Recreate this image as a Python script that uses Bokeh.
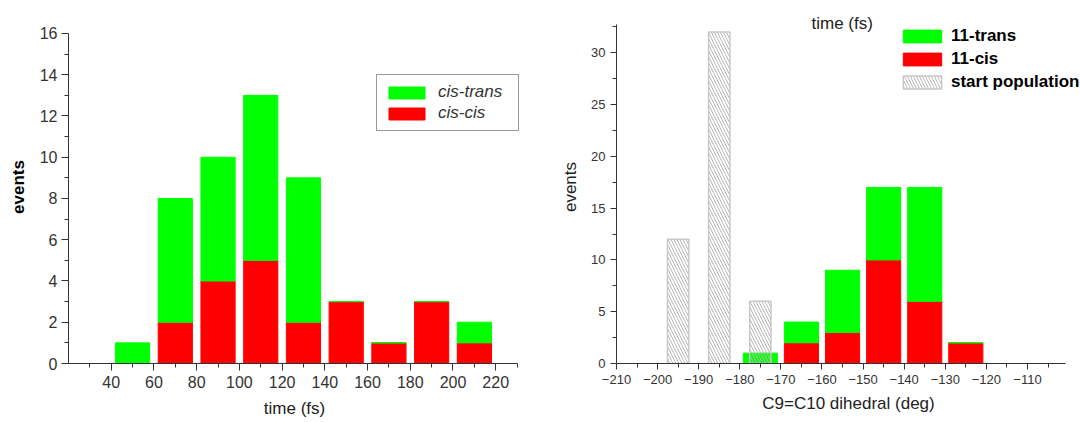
from bokeh.plotting import figure
from bokeh.layouts import row
from bokeh.models import Legend, LegendItem, FixedTicker, Label, Range1d, ColumnDataSource
from bokeh.embed import file_html
from bokeh.resources import INLINE

# ---- left chart data ----
time_centers = [50, 70, 90, 110, 130, 150, 170, 190, 210]
cis_cis = [0, 2, 4, 5, 2, 3, 1, 3, 1]
cis_trans = [1, 6, 6, 8, 7, 0, 0, 0, 1]
left_xticks = [40, 60, 80, 100, 120, 140, 160, 180, 200, 220]
left_xminor = [30, 50, 70, 90, 110, 130, 150, 170, 190, 210, 230]
left_yticks = [0, 2, 4, 6, 8, 10, 12, 14, 16]
left_yminor = [1, 3, 5, 7, 9, 11, 13, 15]

# ---- right chart data ----
dihedral_centers = [-175, -165, -155, -145, -135, -125]
cis11 = [0, 2, 3, 10, 6, 2]
trans11 = [1, 2, 6, 7, 11, 0]
start_centers = [-195, -185, -175]
start_pop = [12, 32, 6]
right_xticks = [-210, -200, -190, -180, -170, -160, -150, -140, -130, -120, -110]
right_xminor = [-205, -195, -185, -175, -165, -155, -145, -135, -125, -115, -105]
right_yticks = [0, 5, 10, 15, 20, 25, 30]
right_yminor = [2.5, 7.5, 12.5, 17.5, 22.5, 27.5, 32.5]

FONT = "Liberation Sans"
GREEN = "#00ff00"
RED = "#ff0000"
AX = "#333333"


def style_axis(ax, ticks, minor, size, tick_out, standoff):
    ax.ticker = FixedTicker(ticks=ticks, minor_ticks=minor)
    ax.axis_line_color = AX
    ax.major_tick_line_color = AX
    ax.minor_tick_line_color = AX
    ax.major_tick_out = tick_out
    ax.major_tick_in = 0
    ax.minor_tick_out = 4
    ax.minor_tick_in = 0
    ax.major_label_standoff = standoff
    ax.major_label_text_font = FONT
    ax.major_label_text_font_size = size
    ax.major_label_text_color = "#333333"
    ax.axis_label_text_font = FONT
    ax.axis_label_text_font_size = "17px"
    ax.axis_label_text_color = "#222222"
    ax.axis_label_text_font_style = "normal"


# both figures share the same frame top / bottom (row aligns them)
TOP = 10
BOTTOM = 59

# ================= LEFT =================
p1 = figure(width=540, height=422, output_backend="svg", toolbar_location=None,
            x_range=Range1d(20, 231.6), y_range=Range1d(0, 17.115),
            min_border_left=68, min_border_right=20, min_border_top=TOP, min_border_bottom=BOTTOM)
p1.outline_line_color = None
p1.xgrid.visible = False
p1.ygrid.visible = False

src1 = ColumnDataSource(dict(x=time_centers, cc=cis_cis,
                             tot=[a + b for a, b in zip(cis_cis, cis_trans)]))
g_red1 = p1.vbar(x="x", width=16, bottom=0, top="cc", source=src1,
                 fill_color=RED, line_color=RED)
g_green1 = p1.vbar(x="x", width=16, bottom="cc", top="tot", source=src1,
                   fill_color=GREEN, line_color=GREEN)

style_axis(p1.xaxis[0], left_xticks, left_xminor, "16px", 7, 5)
style_axis(p1.yaxis[0], left_yticks, left_yminor, "16px", 7, 4)
p1.xaxis.bounds = (20, 230)
p1.yaxis.bounds = (0, 16)
p1.xaxis.axis_label = "time (fs)"
p1.xaxis.axis_label_standoff = 8
p1.yaxis.axis_label = "events"
p1.yaxis.axis_label_text_font_style = "bold"
p1.yaxis.axis_label_text_color = "#000000"
p1.yaxis.axis_label_standoff = 9

leg1 = Legend(items=[LegendItem(label="cis-trans", renderers=[g_green1]),
                     LegendItem(label="cis-cis", renderers=[g_red1])],
              location=(308, 232))
leg1.label_text_font = FONT
leg1.label_text_font_style = "italic"
leg1.label_text_font_size = "17px"
leg1.label_text_color = "#333333"
leg1.glyph_width = 45
leg1.glyph_height = 15
leg1.label_height = 20
leg1.spacing = 1
leg1.padding = 7
leg1.margin = 0
leg1.label_standoff = 9
leg1.label_width = 73
leg1.border_line_color = AX
leg1.border_line_width = 1
p1.add_layout(leg1, "center")

# ================= RIGHT =================
p2 = figure(width=540, height=422, output_backend="svg", toolbar_location=None,
            x_range=Range1d(-210, -97.1), y_range=Range1d(0, 34.08),
            min_border_left=76, min_border_right=0, min_border_top=TOP, min_border_bottom=BOTTOM)
p2.outline_line_color = None
p2.xgrid.visible = False
p2.ygrid.visible = False

src2 = ColumnDataSource(dict(x=dihedral_centers, c=cis11,
                             tot=[a + b for a, b in zip(cis11, trans11)]))
g_red2 = p2.vbar(x="x", width=8.3, bottom=0, top="c", source=src2,
                 fill_color=RED, line_color=RED)
g_green2 = p2.vbar(x="x", width=8.3, bottom="c", top="tot", source=src2,
                   fill_color=GREEN, line_color=GREEN)
src3 = ColumnDataSource(dict(x=start_centers, top=start_pop))
g_start = p2.vbar(x="x", width=5.2, bottom=0, top="top", source=src3,
                  fill_color=None, line_color="#c8c8c8", line_width=1.5,
                  hatch_pattern="\\", hatch_color="#b8b8b8", hatch_weight=1, hatch_scale=6)

style_axis(p2.xaxis[0], right_xticks, right_xminor, "13px", 6, 5)
style_axis(p2.yaxis[0], right_yticks, right_yminor, "13px", 6, 5)
p2.xaxis.bounds = (-210, -100.7)
p2.yaxis.bounds = (0, 32.73)
p2.xaxis.axis_label = "C9=C10 dihedral (deg)"
p2.xaxis.axis_label_standoff = 7
p2.yaxis.axis_label = "events"
p2.yaxis.axis_label_standoff = 8

leg2 = Legend(items=[LegendItem(label="11-trans", renderers=[g_green2]),
                     LegendItem(label="11-cis", renderers=[g_red2]),
                     LegendItem(label="start population", renderers=[g_start])],
              location=(278, 267))
leg2.label_text_font = FONT
leg2.label_text_font_style = "bold"
leg2.label_text_font_size = "17px"
leg2.label_text_color = "#000000"
leg2.glyph_width = 48
leg2.glyph_height = 16
leg2.label_height = 20
leg2.spacing = 3
leg2.padding = 4
leg2.margin = 0
leg2.label_standoff = 5
leg2.border_line_alpha = 0
leg2.background_fill_alpha = 0
p2.add_layout(leg2, "center")

p2.add_layout(Label(x=195, y=340, x_units="screen", y_units="screen", text="time (fs)",
                    text_font=FONT, text_font_size="17px", text_color="#222222",
                    text_baseline="middle"))

layout = row(p1, p2)
open("out.html", "w").write(file_html(layout, INLINE))
